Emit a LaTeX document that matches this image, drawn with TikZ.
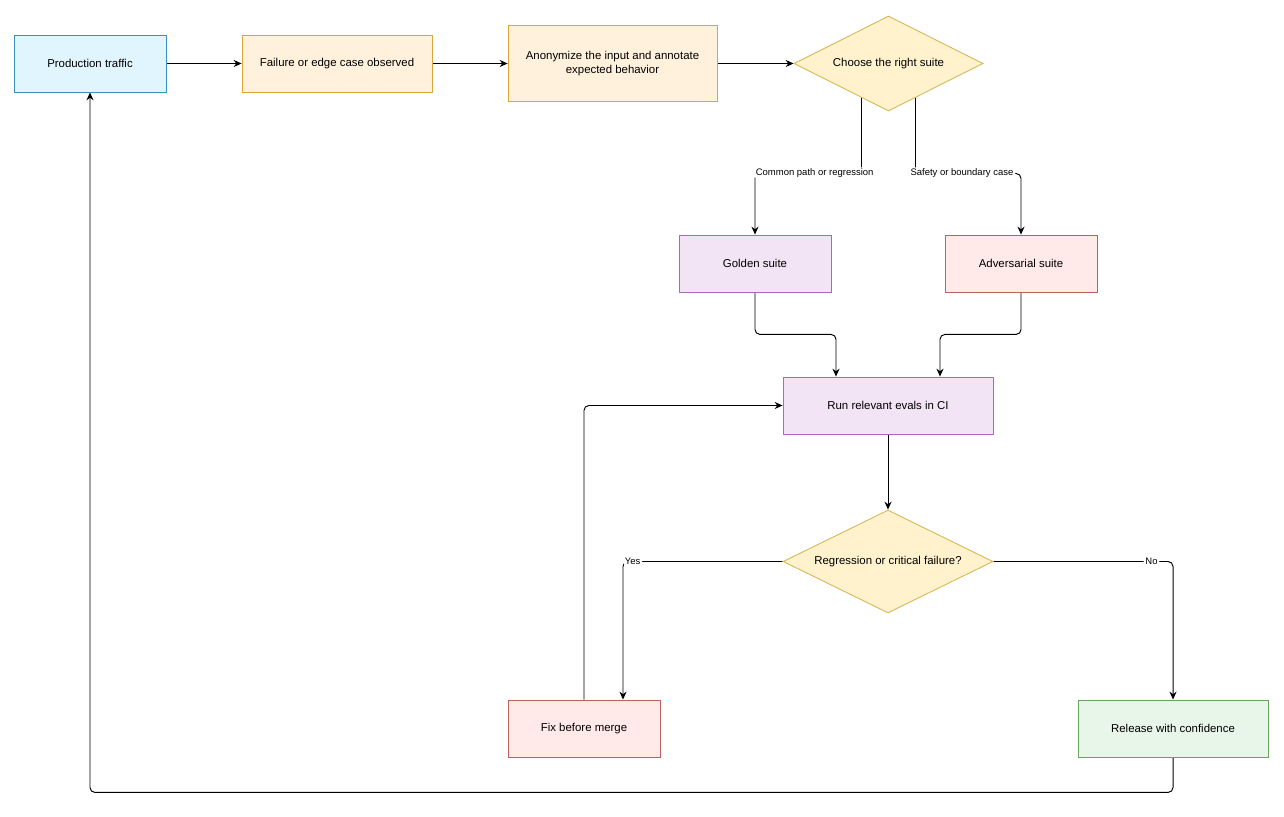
\documentclass[tikz,border=0pt]{standalone}
\usepackage{fontspec}
\setmainfont{Liberation Sans}
\usepackage{xcolor}
\usetikzlibrary{positioning,shapes.geometric,arrows.meta,calc,backgrounds}

\definecolor{blueFill}{HTML}{E1F5FE}
\definecolor{blueLine}{HTML}{3A93BE}
\definecolor{orangeFill}{HTML}{FFF1DC}
\definecolor{orangeLine}{HTML}{DDA63C}
\definecolor{yellowFill}{HTML}{FFF2CC}
\definecolor{yellowLine}{HTML}{D6B656}
\definecolor{purpleFill}{HTML}{F2E4F5}
\definecolor{purpleLine}{HTML}{A26BBB}
\definecolor{redFill}{HTML}{FFE9E9}
\definecolor{redLine}{HTML}{C0605C}
\definecolor{greenFill}{HTML}{E8F5E9}
\definecolor{greenLine}{HTML}{6AA35F}

\begin{document}
\begin{tikzpicture}[
    x=0.02cm, y=-0.02cm,
    font=\fontsize{6.5}{7.8}\selectfont,
    stepbox/.style={rectangle, draw, line width=0.5pt, align=center, minimum width=3.04cm, minimum height=1.14cm, inner sep=1pt},
    decision/.style={diamond, aspect=2, draw=yellowLine, fill=yellowFill, line width=0.5pt, inner sep=0pt, minimum width=3.78cm, minimum height=1.9cm, align=center},
    arrow/.style={-{Stealth[length=4.5pt,width=4pt]}, line width=0.55pt, rounded corners=2.8pt},
    edgelabel/.style={fill=white, inner sep=1pt, font=\fontsize{5.4}{6.5}\selectfont}
]
\useasboundingbox (0,0) rectangle (1284,817);

% Top row
\node[stepbox, draw=blueLine, fill=blueFill] (prodtraffic) at (90,63.5) {Production traffic};
\node[stepbox, draw=orangeLine, fill=orangeFill, minimum width=3.8cm] (failure) at (337,63.5) {Failure or edge case observed};
\node[stepbox, draw=orangeLine, fill=orangeFill, minimum width=4.18cm, minimum height=1.52cm] (anonymize) at (612.5,63.5) {Anonymize the input and annotate\\expected behavior};
\node[decision] (choosesuite) at (888.5,63.5) {Choose the right suite};

% Suites
\node[stepbox, draw=purpleLine, fill=purpleFill] (golden) at (755,263.5) {Golden suite};
\node[stepbox, draw=redLine, fill=redFill] (adversarial) at (1021,263.5) {Adversarial suite};

% CI and decision
\node[stepbox, draw=purpleLine, fill=purpleFill, minimum width=4.2cm] (runevals) at (888,405.5) {Run relevant evals in CI};
\node[decision, minimum width=4.2cm, minimum height=2.06cm] (regress) at (888,561.5) {Regression or critical failure?};

% Outcomes
\node[stepbox, draw=redLine, fill=redFill] (fixmerge) at (584,728.5) {Fix before merge};
\node[stepbox, draw=greenLine, fill=greenFill, minimum width=3.8cm] (release) at (1173,728.5) {Release with confidence};

% Arrows
\begin{scope}[on background layer]
\draw[arrow] (prodtraffic) -- (failure);
\draw[arrow] (failure) -- (anonymize);
\draw[arrow] (anonymize) -- (choosesuite);
\draw[arrow] ($(choosesuite.center)+(-27,0)$) -- ++(0,110) -| node[edgelabel, pos=0.22] {Common path or regression} (golden.north);
\draw[arrow] ($(choosesuite.center)+(27,0)$) -- ++(0,110) -| node[edgelabel, pos=0.22] {Safety or boundary case} (adversarial.north);
\draw[arrow] (golden.south) -- ++(0,42) -| ($(runevals.north)+(-52,0)$);
\draw[arrow] (adversarial.south) -- ++(0,42) -| ($(runevals.north)+(52,0)$);
\draw[arrow] (runevals) -- (regress);
\draw[arrow] (regress.west) -| node[edgelabel, pos=0.47] {Yes} ($(fixmerge.north)+(39,0)$);
\draw[arrow] (regress.east) -| node[edgelabel, pos=0.44] {No} (release.north);
\draw[arrow] (fixmerge.north) |- (runevals.west);
\draw[arrow] (release.south) -- ++(0,35) -| (prodtraffic.south);
\end{scope}

\end{tikzpicture}
\end{document}
